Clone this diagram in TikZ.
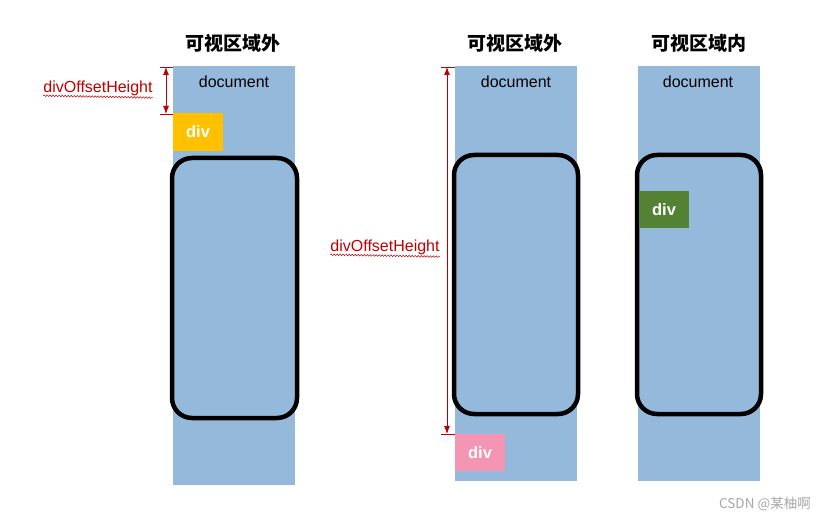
\documentclass[tikz,border=0pt]{standalone}
\usepackage{fontspec}
\setmainfont{Liberation Sans}
\newfontfamily\cjk{Noto Sans CJK SC}
\usetikzlibrary{arrows.meta,decorations.pathmorphing}
\definecolor{docblue}{HTML}{95B9DA}
\definecolor{dred}{HTML}{C00000}
\definecolor{orng}{HTML}{FFC000}
\definecolor{pnk}{HTML}{F595B4}
\definecolor{grn}{HTML}{548235}
\begin{document}
\begin{tikzpicture}[x=1pt,y=-1pt,
  doc/.style={fill=docblue,draw=none},
  view/.style={draw=black,line width=4.5pt,rounded corners=20pt},
  divbox/.style={draw=none,text=white,font=\bfseries\fontsize{16.5}{16.5}\selectfont,inner sep=0pt},
  title/.style={font=\cjk\bfseries\fontsize{19}{19}\selectfont},
  doctxt/.style={font=\fontsize{16}{16}\selectfont},
  dim/.style={draw=dred,line width=0.8pt,{Latex[length=8pt,width=6pt]}-{Latex[length=8pt,width=6pt]}},
  tick/.style={draw=dred,line width=0.8pt},
  lbl/.style={text=dred,font=\fontsize{16}{16}\selectfont,inner sep=1pt}]
\useasboundingbox (0,0) rectangle (830,521);
% column 1
\fill[docblue] (173,66) rectangle (295,485);
\node[title] (t1) at (233,43) {可视区域外};
\node[doctxt] (d1) at (234,82) {document};
\fill[orng] (173,113) rectangle (223,151);
\node[divbox] (v1) at (198,132) {div};
\draw[view] (172,158) rectangle (297,418);
\coordinate (a1) at (166,67); \coordinate (b1) at (166,114);
\draw[tick] (160,67) -- (173,67); \draw[tick] (160,114) -- (173,114);
\draw[dim] (a1) -- (b1);
\node[lbl] (l1) at (98,88) {divOffsetHeight};
\draw[dred,line width=0.5pt,decorate,decoration={snake,amplitude=0.8pt,segment length=3pt}] (l1.south west)++(1,-1) -- ([xshift=-1pt,yshift=-1pt]l1.south east);
% column 2
\fill[docblue] (455,66) rectangle (577,481);
\node[title] (t2) at (515,43) {可视区域外};
\node[doctxt] (d2) at (516,82) {document};
\draw[view] (454,155) rectangle (578,414);
\fill[pnk] (455,434) rectangle (505,471);
\node[divbox] (v2) at (480,453) {div};
\coordinate (a2) at (447,67); \coordinate (b2) at (447,434);
\draw[tick] (441,67) -- (455,67); \draw[tick] (441,434) -- (455,434);
\draw[dim] (a2) -- (b2);
\node[lbl] (l2) at (385,247) {divOffsetHeight};
\draw[dred,line width=0.5pt,decorate,decoration={snake,amplitude=0.8pt,segment length=3pt}] (l2.south west)++(1,-1) -- ([xshift=-1pt,yshift=-1pt]l2.south east);
% column 3
\fill[docblue] (638,66) rectangle (760,481);
\node[title] (t3) at (699,43) {可视区域内};
\node[doctxt] (d3) at (698,82) {document};
\draw[view] (637,155) rectangle (761,414);
\fill[grn] (639,191) rectangle (689,228);
\node[divbox] (v3) at (664,210) {div};
\node[text=gray!70,font=\cjk\fontsize{13.5}{13.5}\selectfont] (wm) at (765,504) {CSDN @某柚啊};
\end{tikzpicture}
\end{document}
